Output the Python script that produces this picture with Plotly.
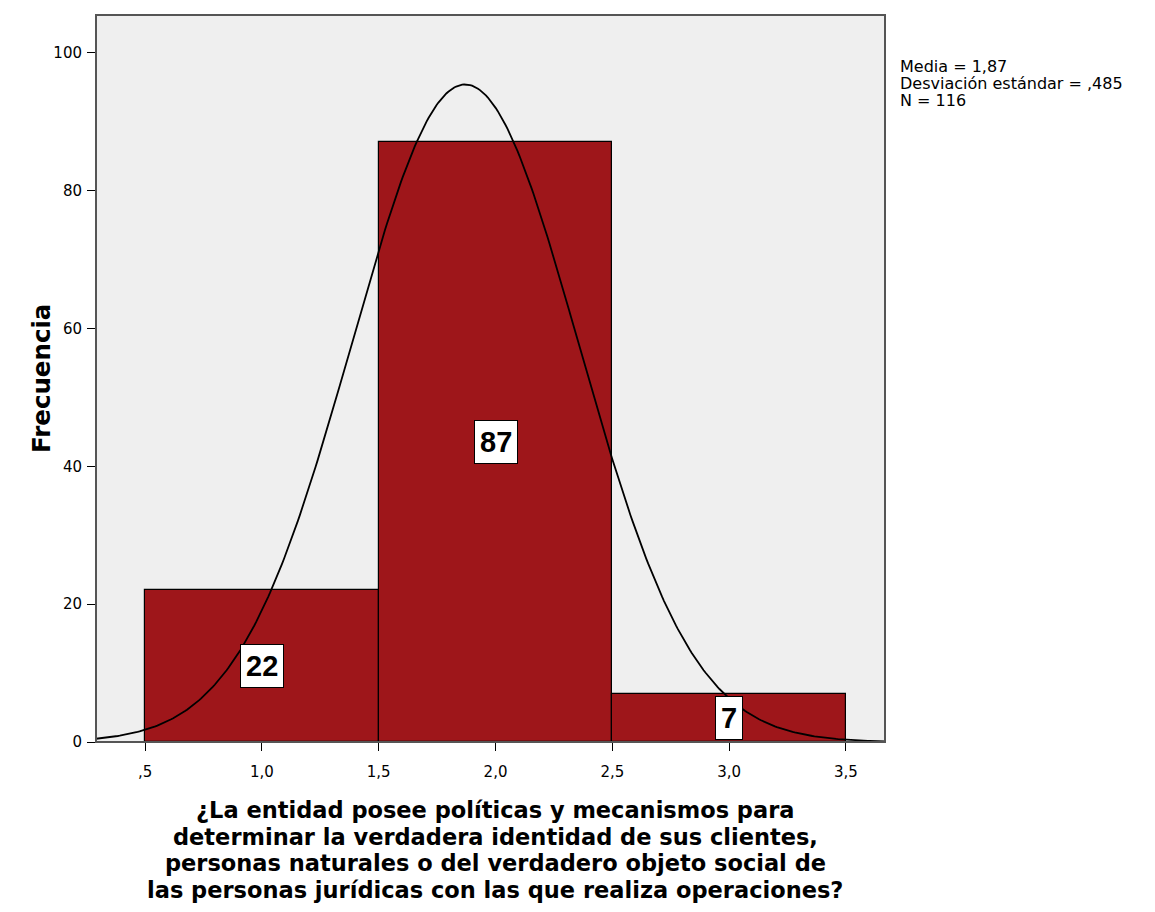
import numpy as np
import plotly.graph_objects as go

# Histogram bins (lower edge, upper edge) and counts
bin_lo = [0.5, 1.5, 2.5]
bin_hi = [1.5, 2.5, 3.5]
counts = [22, 87, 7]

# Summary statistics
mean = 1.87
std = 0.485
n = 116

x_tickvals = [0.5, 1.0, 1.5, 2.0, 2.5, 3.0, 3.5]
x_ticktext = [",5", "1,0", "1,5", "2,0", "2,5", "3,0", "3,5"]
y_tickvals = [0, 20, 40, 60, 80, 100]

stats_lines = ["Media = 1,87", "Desviación estándar = ,485", f"N = {n}"]
x_title_lines = [
    "¿La entidad posee políticas y mecanismos para",
    "determinar la verdadera identidad de sus clientes,",
    "personas naturales o del verdadero objeto social de",
    "las personas jurídicas con las que realiza operaciones?",
]

bar_color = "#9E161A"
sans = "DejaVu Sans, Verdana, sans-serif"
arial = "Liberation Sans, Arial, sans-serif"

# plot area geometry in pixels
L, R, T, B = 96, 270, 15, 170
H = 912 - T - B


def py(pix):
    """Convert a pixel row to paper y."""
    return (912 - B - pix) / H


centers = [(a + b) / 2 for a, b in zip(bin_lo, bin_hi)]
widths = [b - a for a, b in zip(bin_lo, bin_hi)]

fig = go.Figure()
fig.add_trace(go.Bar(
    x=centers, y=counts, width=widths,
    marker=dict(color=bar_color, line=dict(color="black", width=1.2)),
    hoverinfo="skip", showlegend=False,
))

# Fitted normal curve scaled to counts (bin width 1)
xs = np.linspace(0.29, 3.67, 400)
ys = n * widths[0] * np.exp(-0.5 * ((xs - mean) / std) ** 2) / (std * np.sqrt(2 * np.pi))
fig.add_trace(go.Scatter(x=xs, y=ys, mode="lines",
                         line=dict(color="black", width=1.8),
                         hoverinfo="skip", showlegend=False))

# Count labels in the middle of each bar
for c, v in zip(centers, counts):
    fig.add_annotation(x=c, y=v / 2, text=f"<b>{v}</b>", showarrow=False,
                       font=dict(family=arial, size=29, color="black"),
                       bgcolor="white", bordercolor="black", borderwidth=1,
                       borderpad=5)

for i, line in enumerate(stats_lines):
    fig.add_annotation(xref="paper", yref="paper", x=(898 - L) / 789, y=py(66 + 17 * i),
                       xanchor="left", yanchor="middle", showarrow=False,
                       text=line, font=dict(family=sans, size=16, color="black"))

fig.add_annotation(xref="paper", yref="paper", x=-0.09, y=0.5,
                   textangle=-90, showarrow=False,
                   text="<b>Frecuencia</b>",
                   font=dict(family=sans, size=24.5, color="black"))

for i, line in enumerate(x_title_lines):
    fig.add_annotation(xref="paper", yref="paper", x=0.506, y=py(810 + 26.5 * i),
                       xanchor="center", yanchor="middle", showarrow=False,
                       text=f"<b>{line}</b>",
                       font=dict(family=sans, size=22.5, color="black"))

fig.update_layout(
    width=1155, height=912,
    margin=dict(l=L, r=R, t=T, b=B),
    paper_bgcolor="white", plot_bgcolor="#EFEFEF",
    bargap=0,
    font=dict(family=sans, size=15, color="black"),
    xaxis=dict(range=[0.29, 3.667], tickvals=x_tickvals, ticktext=x_ticktext,
               ticks="outside", ticklen=8, tickcolor="black", showgrid=False,
               zeroline=False, showline=True, linecolor="black", linewidth=1,
               ticklabelstandoff=8, tickfont=dict(size=15)),
    yaxis=dict(range=[0, 105.5], tickvals=y_tickvals, ticks="outside",
               ticklen=8, tickcolor="black", showgrid=False, zeroline=False,
               showline=True, linecolor="black", linewidth=1,
               ticklabelstandoff=2, tickfont=dict(size=15)),
    shapes=[dict(type="rect", xref="paper", yref="paper", x0=0, x1=1, y0=0, y1=1,
                 line=dict(color="#555555", width=2), fillcolor="rgba(0,0,0,0)")],
)

fig.write_html("out.html")
